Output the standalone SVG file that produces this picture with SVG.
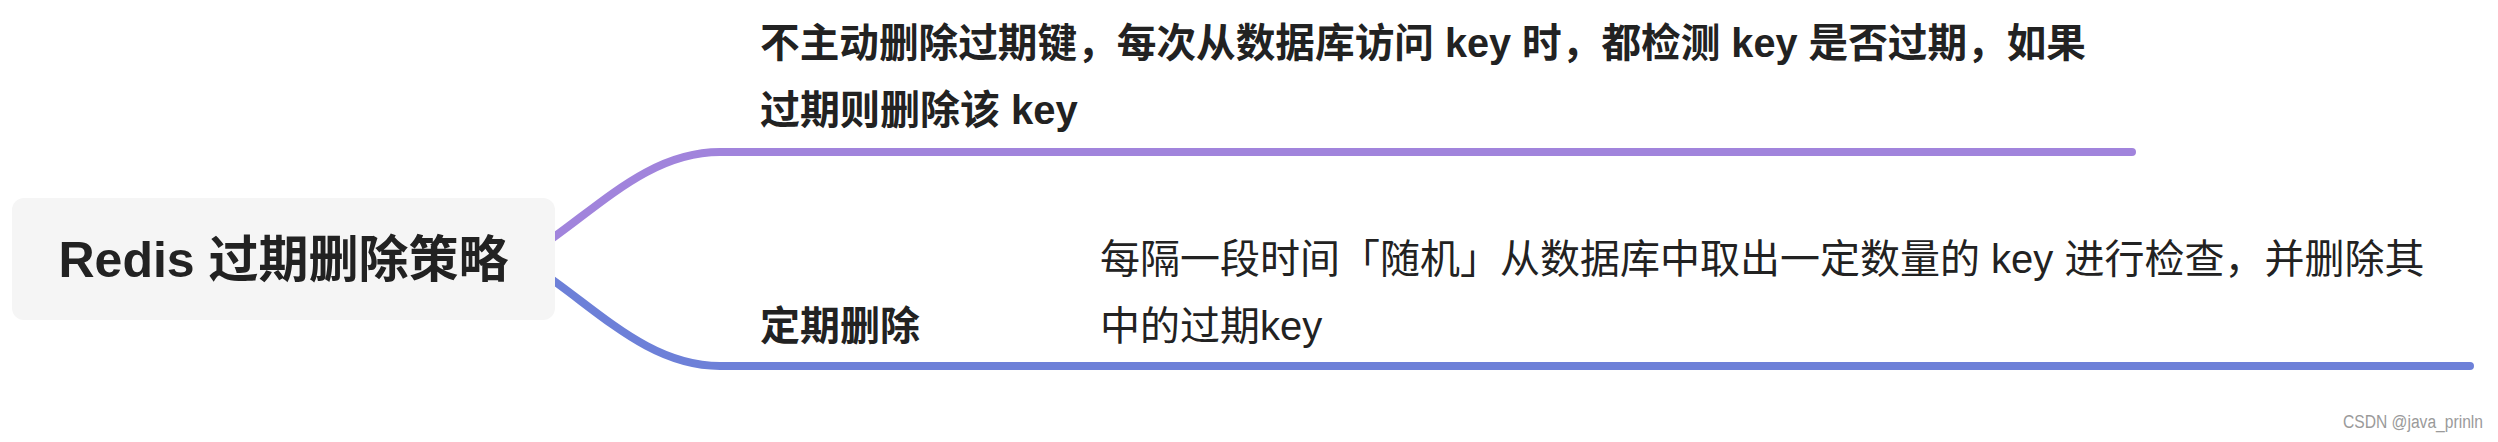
<svg xmlns="http://www.w3.org/2000/svg" width="2498" height="442" viewBox="0 0 2498 442">
  <style>
    .conn { fill: none; stroke-width: 8; stroke-linecap: round; stroke-linejoin: round; }
    .t { font-family: "Liberation Sans", "Noto Sans CJK SC", sans-serif; fill: #222222; }
    .root { font-size: 50px; font-weight: 600; }
    .b { font-size: 40px; font-weight: 600; }
    .r { font-size: 40px; font-weight: 400; }
    .wm { font-family: "Liberation Sans", sans-serif; font-size: 18px; fill: #9a9a9a; }
  </style>
  <rect x="0" y="0" width="2498" height="442" fill="#ffffff"/>
  <g id="connectors">
    <path class="conn" stroke="#a184dc" d="M 540 247 C 600 206, 650 152, 720 152 L 2132 152"/>
    <path class="conn" stroke="#6d80d8" d="M 540 271 C 600 312, 650 366, 720 366 L 2470 366"/>
  </g>
  <g id="root">
    <rect x="12" y="198" width="543" height="122" rx="12" ry="12" fill="#f5f5f5"/>
    <text class="t root" x="283.5" y="277" text-anchor="middle">Redis 过期删除策略</text>
  </g>
  <g id="lazy">
    <text class="t b" x="760" y="57" textLength="1326" lengthAdjust="spacingAndGlyphs">不主动删除过期键，每次从数据库访问 key 时，都检测 key 是否过期，如果</text>
    <text class="t b" x="760" y="124">过期则删除该 key</text>
  </g>
  <g id="periodic">
    <text class="t b" x="760" y="340">定期删除</text>
  </g>
  <g id="periodic-desc">
    <text class="t r" x="1100" y="273">每隔一段时间「随机」从数据库中取出一定数量的 key 进行检查，并删除其</text>
    <text class="t r" x="1100" y="340">中的过期key</text>
  </g>
  <text class="wm" x="2343" y="428" textLength="140" lengthAdjust="spacingAndGlyphs">CSDN @java_prinln</text>
</svg>
